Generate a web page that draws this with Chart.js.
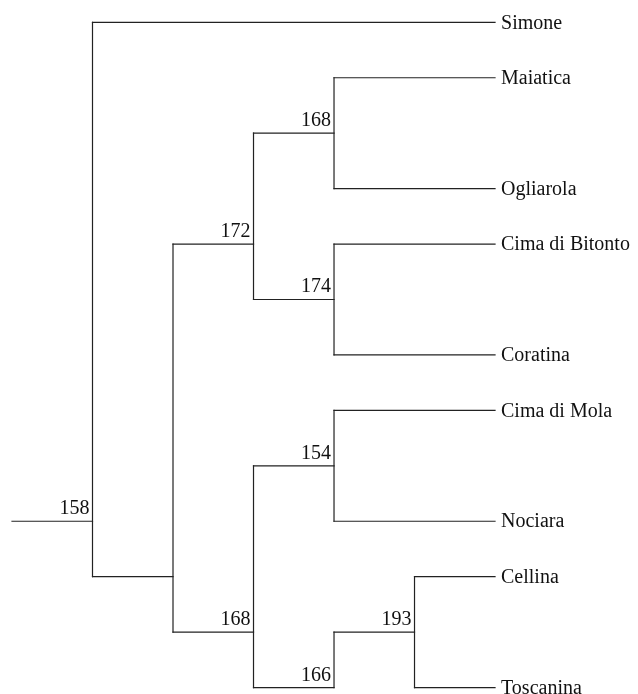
<!DOCTYPE html>
<html>
<head>
<meta charset="utf-8">
<script src="https://cdn.jsdelivr.net/npm/chart.js@4/dist/chart.umd.min.js"></script>
<style>
html,body{margin:0;padding:0;background:#fff;}
#wrap{width:638px;height:694px;position:relative;}
</style>
</head>
<body>
<div id="wrap"><canvas id="c"></canvas></div>
<script>
// Leaves (terminal taxa), their row in the layout and their parent node index
const leaves = ['Simone','Maiatica','Ogliarola','Cima di Bitonto','Coratina','Cima di Mola','Nociara','Cellina','Toscanina'];
const leafRows = [0,1,3,4,6,7,9,10,12];
const leafParents = [0,3,3,4,4,6,6,8,8];
const leafDepth = 6;

// Internal nodes: support labels, depth level, row, parent index
const nodeLabels = ['158','','172','168','174','168','154','166','193'];
const nodeDepth = [1,2,3,4,4,3,4,4,5];
const nodeRow = [9,10,4,2,5,11,8,12,11];
const nodeParent = [-1,0,1,2,2,1,5,5,7];

const LINE = '#222';
const datasets = [];
function seg(x1,y1,x2,y2){
  datasets.push({data:[{x:x1,y:y1},{x:x2,y:y2}],showLine:true,borderColor:LINE,borderWidth:1.2,pointRadius:0,fill:false,borderCapStyle:'square'});
}
nodeLabels.forEach((lab,i)=>{
  const p = nodeParent[i];
  const px = p<0 ? 0 : nodeDepth[p];
  seg(px,nodeRow[i],nodeDepth[i],nodeRow[i]);
  const rows=[nodeRow[i]];
  nodeParent.forEach((pp,j)=>{ if(pp===i) rows.push(nodeRow[j]); });
  leafParents.forEach((pp,j)=>{ if(pp===i) rows.push(leafRows[j]); });
  seg(nodeDepth[i],Math.min(...rows),nodeDepth[i],Math.max(...rows));
});
leaves.forEach((n,j)=>{
  seg(nodeDepth[leafParents[j]],leafRows[j],leafDepth,leafRows[j]);
});

const labelPlugin = {
  id:'treeLabels',
  afterDatasetsDraw(chart){
    const ctx=chart.ctx, xs=chart.scales.x, ys=chart.scales.y;
    ctx.save();
    ctx.fillStyle='#111';
    ctx.font='20px "Liberation Serif", "Times New Roman", serif';
    ctx.textAlign='left'; ctx.textBaseline='middle';
    leaves.forEach((n,j)=>{
      ctx.fillText(n, xs.getPixelForValue(leafDepth)+6, ys.getPixelForValue(leafRows[j])+1);
    });
    ctx.textAlign='right'; ctx.textBaseline='alphabetic';
    nodeLabels.forEach((lab,i)=>{
      if(!lab) return;
      ctx.fillText(lab, xs.getPixelForValue(nodeDepth[i])-3, ys.getPixelForValue(nodeRow[i])-7);
    });
    ctx.restore();
  }
};

new Chart(document.getElementById('c'),{
  type:'scatter',
  data:{datasets},
  options:{
    responsive:true,maintainAspectRatio:false,animation:false,
    layout:{padding:0},
    plugins:{legend:{display:false},tooltip:{enabled:false}},
    scales:{
      x:{type:'linear',display:false,min:-0.149,max:7.776},
      y:{type:'linear',display:false,reverse:true,min:-0.402,max:12.116}
    }
  },
  plugins:[labelPlugin]
});
</script>
</body>
</html>
